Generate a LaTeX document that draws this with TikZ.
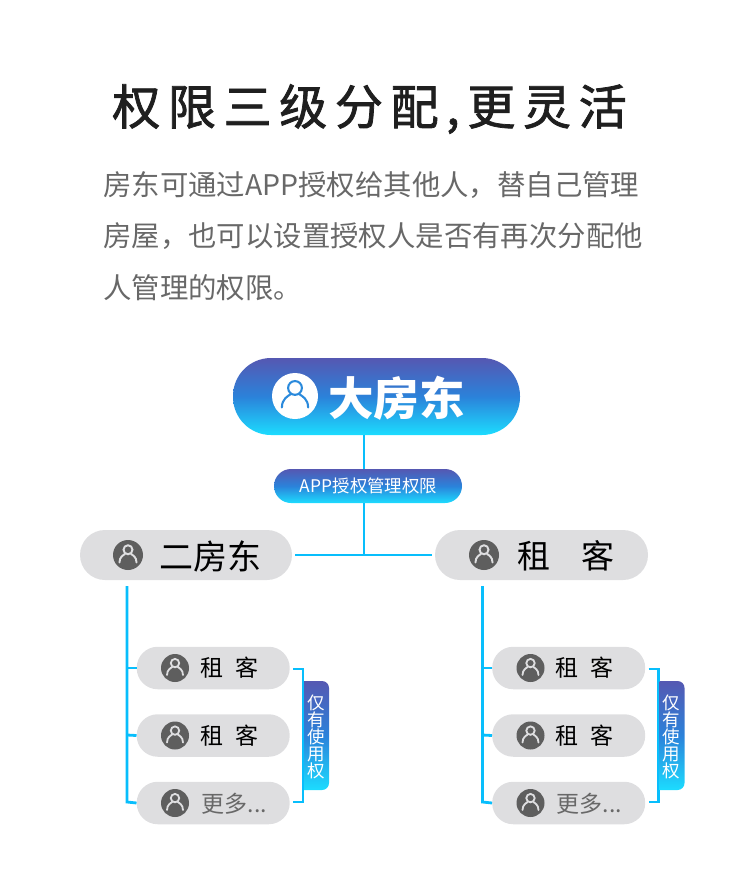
\documentclass[tikz,border=0pt]{standalone}
\usepackage{fontspec}
\setmainfont{Noto Sans CJK SC}
\usetikzlibrary{calc}
\definecolor{gt}{HTML}{5558B2}
\definecolor{gm}{HTML}{2B82DA}
\definecolor{gb}{HTML}{1CDCFF}
\definecolor{lineblue}{HTML}{08BEFC}
\definecolor{iconline}{HTML}{2B8ADC}
\definecolor{pill}{HTML}{DEDEE0}
\definecolor{icondark}{HTML}{5E5E5E}
\definecolor{body}{HTML}{686868}
\pgfdeclareverticalshading{bluegrad}{100bp}{
 color(0bp)=(gb); color(25bp)=(gb); color(50bp)=(gm); color(75bp)=(gt); color(100bp)=(gt)}
\newcommand{\fs}[1]{\fontsize{#1}{#1}\selectfont}
\newcommand{\personicon}[7]{% name, x, y, r, fill, line, weight
 \node[circle,fill=#5,minimum size=#4*2pt,inner sep=0pt] (#1) at (#2,#3) {};
 \begin{scope}[shift={(#2,#3)},x=#4pt,y=#4pt]
 \draw[#6,line width=#4*#7pt] (0,0.35) circle[radius=0.3];
 \draw[#6,line width=#4*#7pt,line cap=round] (-0.57,-0.5) .. controls (-0.57,-0.12) and (-0.3,0) .. (-0.2,0.07);
 \draw[#6,line width=#4*#7pt,line cap=round] (0.57,-0.5) .. controls (0.57,-0.12) and (0.3,0) .. (0.2,0.07);
 \end{scope}}
\tikzset{
 x=1pt,y=-1pt,
 gradbox/.style={shading=bluegrad,rounded corners=#1,inner sep=0pt,text=white},
 graypill/.style={fill=pill,rounded corners=#1,inner sep=0pt},
 leaf/.style={graypill=21pt,minimum width=153pt,minimum height=42.5pt,anchor=west},
 link/.style={draw=lineblue,line width=2.8pt,line cap=butt,line join=miter},
 bodyline/.style={anchor=west,inner sep=0pt,text=body,font=\fs{28.4}},
 leaftext/.style={inner sep=0pt,font=\fs{23}},
 sidetext/.style={inner sep=0pt,text=white,font=\fs{17.5},align=center},
}
\begin{document}
\begin{tikzpicture}
\useasboundingbox (0,0) rectangle (750,894);
% title and paragraph
\node[inner sep=0pt,text=black!88] (title) at (369.5,109) {\addfontfeature{LetterSpace=16,FakeBold=1.6}\fs{48}权限三级分配,更灵活};
\node[bodyline] (p1) at (103,185) {房东可通过APP授权给其他人，替自己管理};
\node[bodyline] (p2) at (103,236) {房屋，也可以设置授权人是否有再次分配他};
\node[bodyline] (p3) at (103,288) {人管理的权限。};
% junction coordinates
\coordinate (topa) at (364,435);
\coordinate (topb) at (364,469);
\coordinate (midb) at (364,503);
\coordinate (junc) at (364,555);
\coordinate (la) at (127,586);
\coordinate (ra) at (482.5,586);
% connectors behind the nodes
\draw[link] (topa) -- (topb);
\draw[link] (midb) -- (junc);
\draw[link] (295,555) coordinate (hl) -- (432,555) coordinate (hr);
% big node
\node[gradbox=38pt,minimum width=287pt,minimum height=77pt] (boss) at (376.5,396.5) {};
\personicon{bossicon}{295}{396}{23}{white}{iconline}{0.09}
\node[inner sep=0pt,text=white,font=\fs{45.5}\bfseries] (bosstext) at (396.5,398) {大房东};
% middle node
\node[gradbox=17pt,minimum width=188pt,minimum height=34pt] (auth) at (368,486) {};
\node[inner sep=0pt,text=white,font=\fs{17.4}] (authtext) at (368.5,486) {APP授权管理权限};
% second level
\node[graypill=25pt,minimum width=212pt,minimum height=50pt] (er) at (186,555) {};
\personicon{ericon}{128}{555}{15}{icondark}{pill}{0.13}
\node[inner sep=0pt,font=\fs{34}] (ertext) at (210,556) {二房东};
\node[graypill=25pt,minimum width=213pt,minimum height=50pt] (zu) at (541.5,555) {};
\personicon{zuicon}{484}{555}{15}{icondark}{pill}{0.13}
\node[inner sep=0pt,font=\fs{33}] (zutext) at (566,556) {租\hspace{0.95em}客};
% left group
\node[leaf] (a1) at (136.5,668) {};
\node[leaf] (a2) at (136.5,735.5) {};
\node[leaf] (a3) at (136.5,803) {};
\personicon{a1i}{175}{668}{14}{icondark}{pill}{0.13}
\personicon{a2i}{175}{735.5}{14}{icondark}{pill}{0.13}
\personicon{a3i}{175}{803}{14}{icondark}{pill}{0.13}
\node[leaftext] (a1t) at (229.5,668) {租\hspace{0.5em}客};
\node[leaftext] (a2t) at (229.5,736) {租\hspace{0.5em}客};
\node[leaftext,text=body] (a3t) at (234.5,804) {更多...};
\draw[link] (la) -- (127,802) -- (a3.west);
\draw[link] (127,668) -- (a1.west);
\draw[link] (127,735) -- (a2.west);
\draw[link] (293,669) -- (303,669) -- (303,802) -- (293,802);
\shade[shading=bluegrad] (304,681) [rounded corners=7pt] -- (329,681) -- (329,790) [sharp corners] -- (304,790) -- cycle;
\node[sidetext] (ast) at (316,736.5) {仅\\[-0.5pt]有\\[-0.5pt]使\\[-0.5pt]用\\[-0.5pt]权};
% right group
\node[leaf] (b1) at (492,668) {};
\node[leaf] (b2) at (492,735.5) {};
\node[leaf] (b3) at (492,803) {};
\personicon{b1i}{530.5}{668}{14}{icondark}{pill}{0.13}
\personicon{b2i}{530.5}{735.5}{14}{icondark}{pill}{0.13}
\personicon{b3i}{530.5}{803}{14}{icondark}{pill}{0.13}
\node[leaftext] (b1t) at (584.5,668) {租\hspace{0.5em}客};
\node[leaftext] (b2t) at (584.5,736) {租\hspace{0.5em}客};
\node[leaftext,text=body] (b3t) at (589.5,804) {更多...};
\draw[link] (ra) -- (482.5,802) -- (b3.west);
\draw[link] (482.5,668) -- (b1.west);
\draw[link] (482.5,735) -- (b2.west);
\draw[link] (648.5,669) -- (658.5,669) -- (658.5,802) -- (648.5,802);
\shade[shading=bluegrad] (659.5,681) [rounded corners=7pt] -- (684.5,681) -- (684.5,790) [sharp corners] -- (659.5,790) -- cycle;
\node[sidetext] (bst) at (671.5,736.5) {仅\\[-0.5pt]有\\[-0.5pt]使\\[-0.5pt]用\\[-0.5pt]权};
\end{tikzpicture}
\end{document}
